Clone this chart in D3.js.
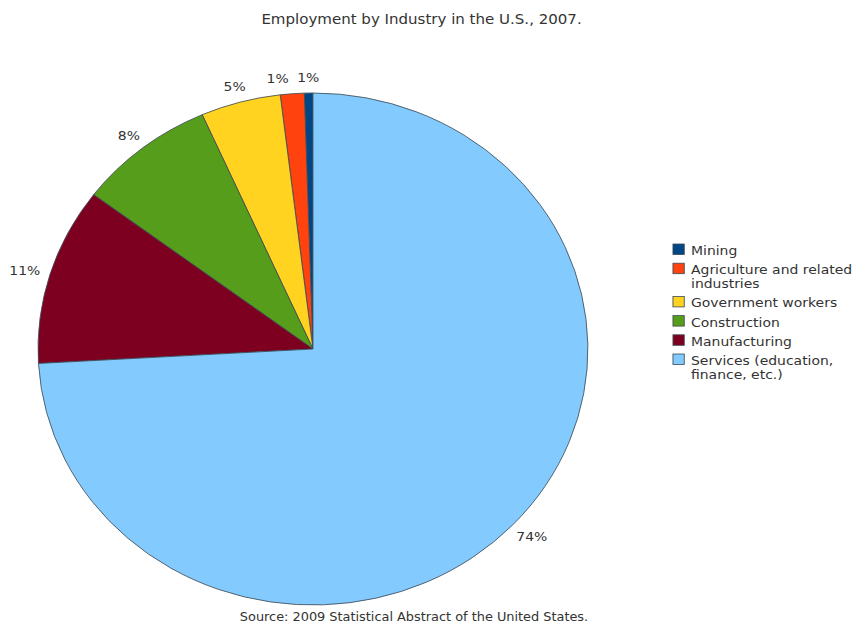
<!DOCTYPE html>
<html>
<head>
<meta charset="utf-8">
<script src="https://cdn.jsdelivr.net/npm/d3@7"></script>
<style>
  body { margin: 0; background: #fff; }
  text { font-family: "DejaVu Sans", sans-serif; fill: #333; }
</style>
</head>
<body>
<div id="chart"></div>
<script>
// data, legend order (Mining first, Services last)
var categories = ["Mining", "Agriculture and related industries", "Government workers",
  "Construction", "Manufacturing", "Services (education, finance, etc.)"];
var values = [0.5, 1.4, 4.7, 8.1, 11.2, 74.1];
var colors = ["#004586", "#ff420e", "#ffd320", "#579d1c", "#7e0021", "#83caff"];
var legendLines = [["Mining"], ["Agriculture and related", "industries"], ["Government workers"],
  ["Construction"], ["Manufacturing"], ["Services (education,", "finance, etc.)"]];

var title = "Employment by Industry in the U.S., 2007.";
var source = "Source: 2009 Statistical Abstract of the United States.";

var svgWidth = 854;
var svgHeight = 626;
// the reference picture is stretched a little horizontally
var stretchX = 1.074;
var viewWidth = svgWidth / stretchX;

var svg = d3.select("#chart")
  .append("svg")
  .attr("width", svgWidth)
  .attr("height", svgHeight)
  .attr("viewBox", "0 0 " + viewWidth + " " + svgHeight)
  .attr("preserveAspectRatio", "none");

var cx = 291.4, cy = 349, radius = 256;

// pie, starting at 12 o'clock and running counter-clockwise
var pie = d3.pie()
  .sort(null)
  .value(d => d)
  .startAngle(0)
  .endAngle(-2 * Math.PI);

var arc = d3.arc().innerRadius(0).outerRadius(radius);
var arcs = pie(values);

var pieGroup = svg.append("g")
  .attr("transform", `translate(${cx}, ${cy})`);

pieGroup.selectAll("path")
  .data(arcs)
  .enter()
  .append("path")
  .attr("d", arc)
  .attr("fill", (d, i) => colors[i])
  .attr("stroke", "#3d4a55")
  .attr("stroke-width", 0.8)
  .attr("stroke-linejoin", "round");

// percentage labels just outside the rim
var labelR = 266;
var labelH = 12;
var labels = svg.append("g").selectAll("text")
  .data(arcs)
  .enter()
  .append("text")
  .attr("font-size", 13)
  .attr("text-anchor", "middle")
  .attr("dominant-baseline", "central")
  .text(d => Math.round(d.value) + "%");

var boxes = [];
labels.each(function(d, i) {
  var mid = (d.startAngle + d.endAngle) / 2;
  var w = this.getComputedTextLength();
  var px = cx + labelR * Math.sin(mid);
  var py = cy - labelR * Math.cos(mid);
  var x = px + Math.sin(mid) * w / 2;
  var y = py - Math.cos(mid) * labelH / 2;
  // push a label left if it runs into the previous one
  if (i > 0) {
    var prev = boxes[i - 1];
    if (Math.abs(prev.y - y) < labelH && x + w / 2 > prev.x - prev.w / 2 - 8) {
      x = prev.x - prev.w / 2 - 8 - w / 2;
    }
  }
  boxes.push({x: x, y: y, w: w});
  d3.select(this).attr("x", x).attr("y", y);
});

// title and source
svg.append("text")
  .attr("x", 392.5)
  .attr("y", 24)
  .attr("text-anchor", "middle")
  .attr("font-size", 14)
  .text(title);

svg.append("text")
  .attr("x", 385.5)
  .attr("y", 621)
  .attr("text-anchor", "middle")
  .attr("font-size", 12)
  .text(source);

// legend
var legendX = 626.6;
var textX = 643.4;
var lineH = 14;
var entryGap = 5.2;
var baseline = 255;

var legend = svg.append("g");
legendLines.forEach(function(lines, i) {
  legend.append("rect")
    .attr("x", legendX)
    .attr("y", baseline - 11)
    .attr("width", 10.5)
    .attr("height", 10.5)
    .attr("fill", colors[i])
    .attr("stroke", "#3d4a55")
    .attr("stroke-width", 0.8);
  var t = legend.append("text")
    .attr("x", textX)
    .attr("y", baseline)
    .attr("font-size", 13);
  lines.forEach(function(line, j) {
    t.append("tspan")
      .attr("x", textX)
      .attr("y", baseline + j * lineH)
      .text(line);
  });
  baseline += lines.length * lineH + entryGap;
});
</script>
</body>
</html>
